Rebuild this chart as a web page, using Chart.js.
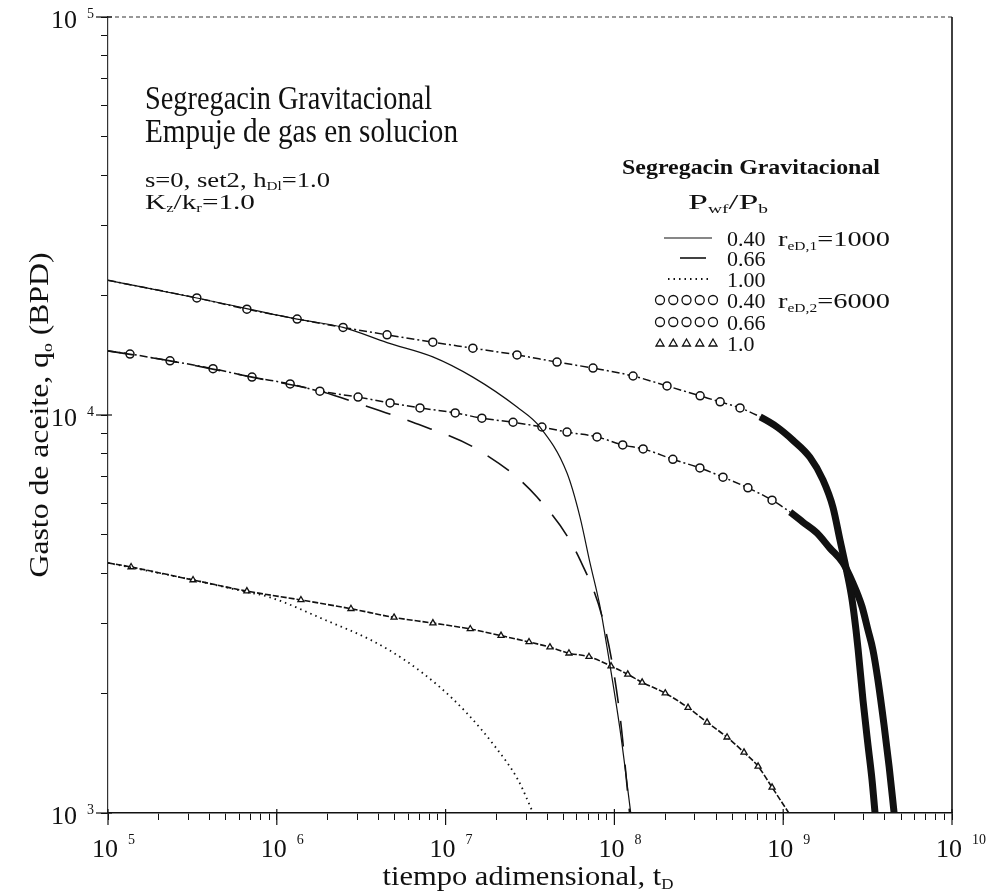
<!DOCTYPE html>
<html>
<head>
<meta charset="utf-8">
<script src="https://cdn.jsdelivr.net/npm/chart.js@4.4.1/dist/chart.umd.min.js"></script>
<style>
  html, body { margin: 0; padding: 0; background: #fff; }
  canvas { display: block; }
</style>
</head>
<body>
<canvas id="chart" width="987" height="892"></canvas>
<script>
// r_eD,1 = 1000
const tR1_040 = [1e5, 3.36e5, 1.32e6, 2.47e6, 4.5e6, 8.4e6, 1.45e7, 2.65e7, 3.62e7, 5.24e7, 6.25e7, 7.17e7, 8.22e7, 9.04e7, 1.08e8, 1.25e8];
const qR1_040 = [21800, 19680, 17420, 16600, 15200, 14000, 12450, 10470, 9330, 7150, 5550, 4250, 3300, 2610, 1620, 1000];
const tR1_066 = [1e5, 2.33e5, 7.13e5, 1.80e6, 2.99e6, 6.33e6, 1.56e7, 3.48e7, 6.25e7, 8.91e7, 1.08e8, 1.23e8];
const qR1_066 = [14490, 13680, 12450, 11480, 10720, 9600, 8170, 6220, 4330, 2850, 1750, 1000];
const tR1_100 = [1e5, 3.19e5, 6.65e5, 8.99e5, 1.95e6, 3.61e6, 5.75e6, 9.14e6, 1.34e7, 1.96e7, 2.69e7, 3.30e7];
const qR1_100 = [4250, 3850, 3590, 3490, 3050, 2720, 2420, 2080, 1780, 1470, 1210, 1000];

// r_eD,2 = 6000
const tR2_040 = [1e5, 3.36e5, 6.65e5, 1.32e6, 2.47e6, 4.5e6, 8.4e6, 1.45e7, 2.65e7, 4.57e7, 7.47e7, 1.29e8, 2.05e8, 3.22e8, 4.23e8, 5.55e8, 7.3e8, 9.19e8, 1.14e9, 1.44e9, 1.72e9, 1.97e9, 2.17e9, 2.39e9, 2.56e9, 2.70e9, 2.78e9, 2.97e9, 3.18e9, 3.36e9, 3.50e9];
const qR2_040 = [21800, 19680, 18450, 17420, 16600, 15900, 15240, 14720, 14160, 13580, 13120, 12530, 11830, 11170, 10790, 10420, 9890, 9330, 8650, 7830, 6870, 5870, 4850, 4010, 3430, 2880, 2570, 1920, 1480, 1210, 1000];
const tR2_066 = [1e5, 1.35e5, 2.33e5, 4.19e5, 7.13e5, 1.20e6, 1.80e6, 3.03e6, 4.69e6, 7.05e6, 1.14e7, 1.64e7, 2.51e7, 3.72e7, 5.24e7, 7.89e7, 1.12e8, 1.48e8, 2.22e8, 3.21e8, 4.40e8, 6.18e8, 8.59e8, 1.10e9, 1.31e9, 1.58e9, 1.89e9, 2.26e9, 2.59e9, 2.93e9, 3.18e9, 3.40e9, 3.64e9, 3.96e9, 4.24e9, 4.54e9];
const qR2_066 = [14490, 14230, 13680, 13070, 12450, 11970, 11480, 11090, 10720, 10420, 10120, 9820, 9590, 9330, 9060, 8810, 8410, 8220, 7740, 7360, 6980, 6560, 6110, 5700, 5380, 5060, 4630, 4250, 3780, 3300, 2880, 2570, 2160, 1660, 1310, 1000];
const tR2_100 = [1e5, 1.37e5, 3.19e5, 6.65e5, 1.39e6, 2.75e6, 4.95e6, 8.41e6, 1.40e7, 2.13e7, 3.12e7, 4.15e7, 5.38e7, 7.07e7, 9.55e7, 1.20e8, 1.46e8, 2.00e8, 2.73e8, 3.54e8, 4.65e8, 5.86e8, 7.10e8, 8.59e8, 1.08e9];
const qR2_100 = [4250, 4150, 3850, 3610, 3430, 3260, 3100, 3000, 2900, 2790, 2690, 2610, 2520, 2470, 2340, 2230, 2130, 2000, 1840, 1690, 1550, 1420, 1310, 1160, 1000];

// where the r_eD,2 markers pile up into a solid band
const bandStart040 = 7.3e8;
const bandStart066 = 1.10e9;

const legendRatios = ['0.40', '0.66', '1.00', '0.40', '0.66', '1.0'];
const xDecades = [5, 6, 7, 8, 9, 10];
const yDecades = [3, 4, 5];

const INK = '#111';
const SERIF = '"Liberation Serif", "DejaVu Serif", serif';

const pts = (t, q) => t.map((v, i) => ({ x: v, y: q[i] }));

function logTicks(lo, hi) {
    const out = [];
    for (let d = lo; d < hi; d++)
        for (let m = 1; m < 10; m++) out.push({ value: m * Math.pow(10, d) });
    out.push({ value: Math.pow(10, hi) });
    return out;
}

// markers along the dash-dot curves, dropped where the band is drawn
function markerRadius(band, r) {
    return c => {
        const p = c.raw;
        if (!p || p.y <= 1000 || p.x >= band) return 0;
        return c.dataIndex === 0 ? 0 : r;
    };
}

const datasets = [
    { label: '0.40 r1', data: pts(tR1_040, qR1_040), borderColor: INK, borderWidth: 1.2, pointRadius: 0 },
    { label: '0.66 r1', data: pts(tR1_066, qR1_066), borderColor: INK, borderWidth: 1.6, borderDash: [26, 18], pointRadius: 0 },
    { label: '1.00 r1', data: pts(tR1_100, qR1_100), borderColor: INK, borderWidth: 1.8, borderDash: [1.5, 4], pointRadius: 0 },
    {
        label: '0.40 r2', data: pts(tR2_040, qR2_040), borderColor: INK, borderWidth: 1.5, borderDash: [8, 3, 2, 3],
        pointStyle: 'circle', pointRadius: markerRadius(bandStart040, 4), pointBackgroundColor: '#fff',
        pointBorderColor: INK, pointBorderWidth: 1.5,
        segment: {
            borderWidth: c => c.p0.parsed.x >= bandStart040 ? 7 : 1.5,
            borderDash: c => c.p0.parsed.x >= bandStart040 ? [] : undefined
        }
    },
    {
        label: '0.66 r2', data: pts(tR2_066, qR2_066), borderColor: INK, borderWidth: 1.5, borderDash: [8, 3, 2, 3],
        pointStyle: 'circle', pointRadius: markerRadius(bandStart066, 4), pointBackgroundColor: '#fff',
        pointBorderColor: INK, pointBorderWidth: 1.5,
        segment: {
            borderWidth: c => c.p0.parsed.x >= bandStart066 ? 7 : 1.5,
            borderDash: c => c.p0.parsed.x >= bandStart066 ? [] : undefined
        }
    },
    {
        label: '1.0 r2', data: pts(tR2_100, qR2_100), borderColor: INK, borderWidth: 1.6, borderDash: [6, 2],
        pointStyle: 'triangle', pointRadius: markerRadius(1e12, 3.5), pointBackgroundColor: '#fff',
        pointBorderColor: INK, pointBorderWidth: 1.3
    }
];

// text runs with sub/superscripts: [text, size, dy, weight]
function runs(ctx, parts, x, y, align, width) {
    let total = 0;
    const w = parts.map(p => {
        ctx.font = (p[3] || '') + ' ' + p[1] + 'px ' + SERIF;
        const m = ctx.measureText(p[0]).width;
        total += m;
        return m;
    });
    const sx = width ? width / total : 1;
    let x0 = align === 'center' ? x - total * sx / 2 : align === 'right' ? x - total * sx : x;
    ctx.save();
    ctx.translate(x0, y);
    ctx.scale(sx, 1);
    ctx.textAlign = 'left';
    ctx.textBaseline = 'alphabetic';
    let cx = 0;
    parts.forEach((p, i) => {
        ctx.font = (p[3] || '') + ' ' + p[1] + 'px ' + SERIF;
        ctx.fillText(p[0], cx, p[2] || 0);
        cx += w[i];
    });
    ctx.restore();
}

function sampleLine(ctx, ds, x1, x2, y) {
    ctx.save();
    ctx.strokeStyle = INK;
    ctx.lineWidth = ds.borderWidth;
    ctx.setLineDash(ds.borderDash || []);
    ctx.beginPath();
    ctx.moveTo(x1, y);
    ctx.lineTo(x2, y);
    ctx.stroke();
    ctx.restore();
}

function sampleMarkers(ctx, style, x1, x2, y) {
    ctx.save();
    ctx.strokeStyle = INK;
    ctx.fillStyle = '#fff';
    ctx.lineWidth = 1.3;
    for (let i = 0; i < 5; i++) {
        const cx = x1 + (x2 - x1) * i / 4;
        ctx.beginPath();
        if (style === 'triangle') {
            ctx.moveTo(cx, y - 4); ctx.lineTo(cx + 4, y + 3); ctx.lineTo(cx - 4, y + 3); ctx.closePath();
        } else {
            ctx.arc(cx, y, 4.5, 0, Math.PI * 2);
        }
        ctx.fill();
        ctx.stroke();
    }
    ctx.restore();
}

const annotations = {
    id: 'annotations',
    afterDraw(chart) {
        const ctx = chart.ctx;
        const { left, right, top, bottom } = chart.chartArea;
        const xs = chart.scales.x, ys = chart.scales.y;
        ctx.save();
        ctx.fillStyle = INK;

        // frame: top and right edges
        ctx.strokeStyle = '#333';
        ctx.lineWidth = 1.2;
        ctx.setLineDash([4, 3]);
        ctx.beginPath(); ctx.moveTo(left, top); ctx.lineTo(right, top); ctx.stroke();
        ctx.setLineDash([]);
        ctx.strokeStyle = INK;
        ctx.lineWidth = 1.6;
        ctx.beginPath(); ctx.moveTo(right, top); ctx.lineTo(right, bottom); ctx.stroke();

        // longer ticks at the decades
        ctx.lineWidth = 1.2;
        xDecades.forEach(d => {
            const px = xs.getPixelForValue(Math.pow(10, d));
            ctx.beginPath(); ctx.moveTo(px, bottom - 4); ctx.lineTo(px, bottom + 12); ctx.stroke();
        });
        yDecades.forEach(d => {
            const py = ys.getPixelForValue(Math.pow(10, d));
            ctx.beginPath(); ctx.moveTo(left + 4, py); ctx.lineTo(left - 12, py); ctx.stroke();
        });

        // decade labels
        xDecades.forEach(d => {
            const px = xs.getPixelForValue(Math.pow(10, d));
            ctx.font = '26px ' + SERIF;
            ctx.textAlign = 'center';
            ctx.fillText('10', px - 3, 857);
            ctx.font = '14px ' + SERIF;
            ctx.textAlign = 'left';
            ctx.fillText(String(d), px + 20, 844);
        });
        yDecades.forEach(d => {
            const py = ys.getPixelForValue(Math.pow(10, d));
            ctx.font = '26px ' + SERIF;
            ctx.textAlign = 'right';
            ctx.fillText('10', 77, py + 11);
            ctx.font = '14px ' + SERIF;
            ctx.textAlign = 'left';
            ctx.fillText(String(d), 87, py + 1);
        });

        // axis titles
        runs(ctx, [['tiempo adimensional, t', 27], ['D', 15, 4]], 528, 885, 'center', 291);
        ctx.save();
        ctx.translate(48, 415);
        ctx.rotate(-Math.PI / 2);
        runs(ctx, [['Gasto de aceite, q', 27], ['o', 15, 4], [' (BPD)', 27]], 0, 0, 'center', 325);
        ctx.restore();

        // headings inside the plot
        runs(ctx, [['Segregacin Gravitacional', 34]], 145, 109, 'left', 287);
        runs(ctx, [['Empuje de gas en solucion', 34]], 145, 142, 'left', 313);
        runs(ctx, [['s=0, set2, h', 21], ['Dl', 12, 3], ['=1.0', 21]], 145, 187, 'left', 185);
        runs(ctx, [['K', 21], ['z', 12, 3], ['/k', 21], ['r', 12, 3], ['=1.0', 21]], 145, 209, 'left', 110);

        runs(ctx, [['Segregacin Gravitacional', 20, 0, 'bold']], 622, 174, 'left', 258);
        runs(ctx, [['P', 22], ['wf', 12, 4], ['/P', 22], ['b', 12, 4]], 728, 209, 'center', 80);

        // legend
        const ds = chart.data.datasets;
        const rowY = [238, 258, 279, 300, 322, 343];
        sampleLine(ctx, ds[0], 664, 712, rowY[0]);
        sampleLine(ctx, ds[1], 680, 712, rowY[1]);
        sampleLine(ctx, ds[2], 668, 712, rowY[2]);
        sampleMarkers(ctx, 'circle', 660, 713, rowY[3]);
        sampleMarkers(ctx, 'circle', 660, 713, rowY[4]);
        sampleMarkers(ctx, 'triangle', 660, 713, rowY[5]);
        legendRatios.forEach((s, i) => runs(ctx, [[s, 22]], 727, rowY[i] + 8, 'left'));
        runs(ctx, [['r', 22], ['eD,1', 12, 4], ['=1000', 22]], 778, rowY[0] + 8, 'left', 112);
        runs(ctx, [['r', 22], ['eD,2', 12, 4], ['=6000', 22]], 778, rowY[3] + 8, 'left', 112);

        ctx.restore();
    }
};

const axisCommon = {
    type: 'logarithmic',
    ticks: { display: false },
    grid: { drawOnChartArea: false, drawTicks: true, tickLength: 7, color: INK, lineWidth: 1 }
};

new Chart(document.getElementById('chart'), {
    type: 'line',
    data: { datasets },
    options: {
        responsive: false,
        animation: false,
        devicePixelRatio: 1,
        layout: { padding: { top: 17, right: 35, left: 0, bottom: 0 } },
        elements: { line: { cubicInterpolationMode: 'monotone', fill: false } },
        plugins: { legend: { display: false }, tooltip: { enabled: false } },
        scales: {
            x: {
                ...axisCommon, position: 'bottom', min: 1e5, max: 1e10,
                border: { display: true, color: INK, width: 1.6 },
                afterBuildTicks: s => { s.ticks = logTicks(5, 10); },
                afterFit: s => { s.height = 79; }
            },
            y: {
                ...axisCommon, position: 'left', min: 1e3, max: 1e5,
                border: { display: true, color: '#333', width: 1.2, dash: [3, 3] },
                afterBuildTicks: s => { s.ticks = logTicks(3, 5); },
                afterFit: s => { s.width = 108; }
            }
        }
    },
    plugins: [annotations]
});
</script>
</body>
</html>
